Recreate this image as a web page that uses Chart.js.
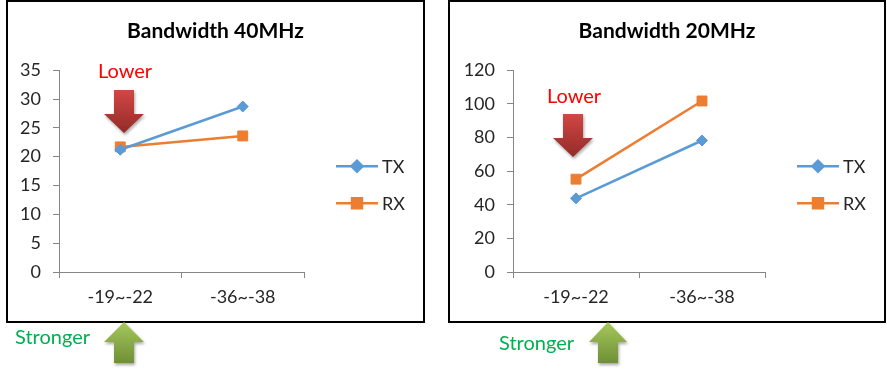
<!DOCTYPE html>
<html>
<head>
<meta charset="utf-8">
<script src="https://cdn.jsdelivr.net/npm/chart.js@4"></script>
<style>
  body { margin: 0; background: #fff; width: 887px; height: 376px; position: relative; overflow: hidden; }
  .box { position: absolute; top: 0; height: 323px; border: 2px solid #000; box-sizing: border-box; background: #fff; }
  .box canvas { display: block; }
  #overlay { position: absolute; left: 0; top: 0; pointer-events: none; }
</style>
</head>
<body>
<div class="box" style="left:6px; width:419px;"><canvas id="chart40" width="415" height="319"></canvas></div>
<div class="box" style="left:448px; width:438px;"><canvas id="chart20" width="434" height="319"></canvas></div>

<svg id="overlay" width="887" height="376" xmlns="http://www.w3.org/2000/svg">
  <defs>
    <linearGradient id="redGrad" x1="0" y1="0" x2="0" y2="1">
      <stop offset="0" stop-color="#d24744"/>
      <stop offset="1" stop-color="#922b28"/>
    </linearGradient>
    <linearGradient id="greenGrad" x1="0" y1="0" x2="0" y2="1">
      <stop offset="0" stop-color="#a6c85c"/>
      <stop offset="1" stop-color="#6f8f36"/>
    </linearGradient>
    <filter id="shadow" x="-30%" y="-30%" width="160%" height="160%">
      <feDropShadow dx="1" dy="2" stdDeviation="1.5" flood-color="#000" flood-opacity="0.35"/>
    </filter>
  </defs>
  <!-- left chart annotations -->
  <text x="98" y="78" font-family="Lato" font-size="20" fill="#ff0000">Lower</text>
  <polygon points="114,90 134,90 134,114 144,114 124,133 104,114 114,114" fill="url(#redGrad)" filter="url(#shadow)"/>
  <text x="15" y="344" font-family="Lato" font-size="20" fill="#00b050">Stronger</text>
  <polygon points="124,322 144,342 134,342 134,363 114,363 114,342 104,342" fill="url(#greenGrad)" filter="url(#shadow)"/>
  <!-- right chart annotations -->
  <text x="547" y="103" font-family="Lato" font-size="20" fill="#ff0000">Lower</text>
  <polygon points="563,114 583,114 583,138 593,138 573,157 553,138 563,138" fill="url(#redGrad)" filter="url(#shadow)"/>
  <text x="499" y="350" font-family="Lato" font-size="20" fill="#00b050">Stronger</text>
  <polygon points="608,322 627,342 618,342 618,363 598,363 598,342 589,342" fill="url(#greenGrad)" filter="url(#shadow)"/>
</svg>

<script>
const categories = ['-19~-22', '-36~-38'];

// Bandwidth 40MHz
const tx40 = [21.2, 28.7];
const rx40 = [21.7, 23.6];

// Bandwidth 20MHz
const tx20 = [43.8, 78.2];
const rx20 = [55.2, 101.7];

const TX_COLOR = '#5b9bd5';
const RX_COLOR = '#ed7d31';
const AXIS_COLOR = '#868686';
const TEXT_COLOR = '#262626';

Chart.defaults.font.family = 'Lato';
Chart.defaults.color = TEXT_COLOR;

// legend drawn as line + marker like the office style
const sideLegend = {
  id: 'sideLegend',
  afterDraw(chart) {
    const ctx = chart.ctx;
    const area = chart.chartArea;
    const x0 = area.right + 32;
    const rows = [area.top + 96, area.top + 133];
    chart.data.datasets.forEach((ds, i) => {
      const y = rows[i];
      ctx.save();
      ctx.strokeStyle = ds.borderColor;
      ctx.lineWidth = 2.5;
      ctx.beginPath();
      ctx.moveTo(x0, y);
      ctx.lineTo(x0 + 42, y);
      ctx.stroke();
      ctx.fillStyle = ds.borderColor;
      Chart.helpers.drawPoint(ctx, {pointStyle: ds.pointStyle, radius: ds.pointRadius, borderWidth: 1}, x0 + 21, y);
      ctx.fill();
      ctx.fillStyle = TEXT_COLOR;
      ctx.font = '18px Lato';
      ctx.textBaseline = 'middle';
      ctx.fillText(ds.label, x0 + 46, y + 1);
      ctx.restore();
    });
  }
};

function makeChart(id, title, tx, rx, yMax, yStep, yWidth) {
  new Chart(document.getElementById(id), {
    type: 'line',
    data: {
      labels: categories,
      datasets: [
        {
          label: 'TX',
          data: tx,
          borderColor: TX_COLOR,
          backgroundColor: TX_COLOR,
          borderWidth: 2.5,
          pointStyle: 'rectRot',
          pointRadius: 5.5,
          pointBorderWidth: 1,
          tension: 0
        },
        {
          label: 'RX',
          data: rx,
          borderColor: RX_COLOR,
          backgroundColor: RX_COLOR,
          borderWidth: 2.5,
          pointStyle: 'rect',
          pointRadius: 7,
          pointBorderWidth: 1,
          tension: 0
        }
      ]
    },
    options: {
      responsive: false,
      animation: false,
      layout: { padding: 0 },
      plugins: {
        legend: { display: false },
        tooltip: { enabled: false },
        title: {
          display: true,
          text: title,
          color: '#000',
          font: { size: 21, weight: 'bold' },
          padding: { top: 17, bottom: 26 }
        }
      },
      scales: {
        x: {
          offset: true,
          border: { color: AXIS_COLOR, width: 1 },
          grid: { display: true, offset: true, drawOnChartArea: false, drawTicks: true, tickLength: 6, color: AXIS_COLOR },
          ticks: { font: { size: 18 }, color: TEXT_COLOR, padding: 8 },
          afterFit(scale) { scale.height = 49; }
        },
        y: {
          min: 0,
          max: yMax,
          border: { color: AXIS_COLOR, width: 1 },
          grid: { display: true, drawOnChartArea: false, drawTicks: true, tickLength: 6, color: AXIS_COLOR },
          ticks: { stepSize: yStep, font: { size: 18 }, color: TEXT_COLOR, padding: 12 },
          afterFit(scale) { scale.width = yWidth; }
        },
        // empty right axis reserves the room where the legend sits
        side: {
          position: 'right',
          axis: 'y',
          border: { display: false },
          grid: { display: false },
          ticks: { display: false },
          afterFit(scale) { scale.width = 119; }
        }
      }
    },
    plugins: [sideLegend]
  });
}

makeChart('chart40', 'Bandwidth 40MHz', tx40, rx40, 35, 5, 51);
makeChart('chart20', 'Bandwidth 20MHz', tx20, rx20, 120, 20, 63);
</script>
</body>
</html>
